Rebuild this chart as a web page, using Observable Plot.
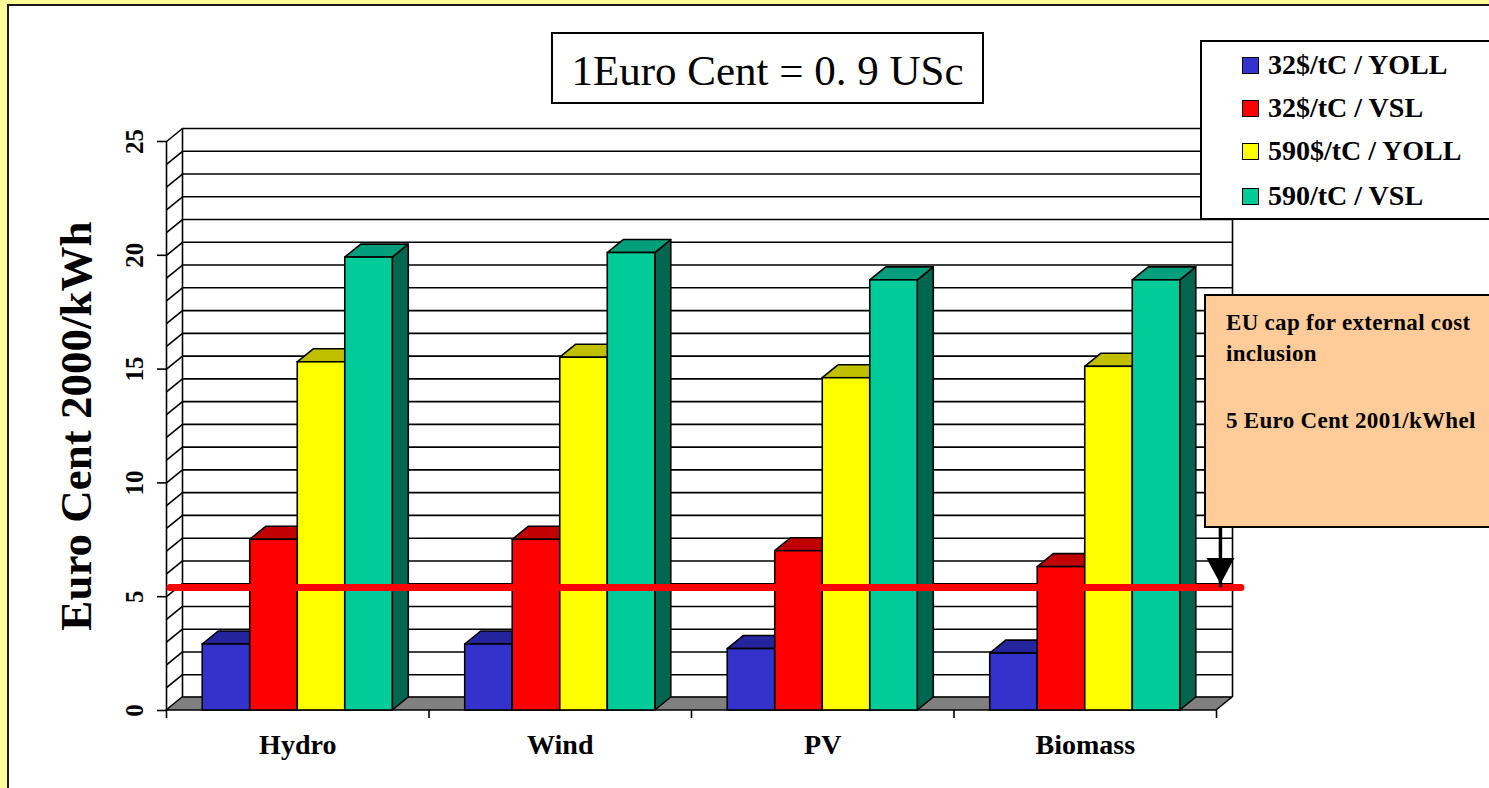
<!DOCTYPE html>
<html><head><meta charset="utf-8">
<script src="https://cdn.jsdelivr.net/npm/d3@7"></script>
<script src="https://cdn.jsdelivr.net/npm/@observablehq/plot@0.6"></script>
<style>
html,body{margin:0;padding:0;width:1489px;height:788px;overflow:hidden;background:#FFFF99;font-family:"Liberation Serif","Times New Roman",serif;}
#panel{position:absolute;left:7px;top:4px;width:1500px;height:800px;background:#fff;border:2px solid #1a1a1a;box-sizing:border-box;}
#chart{position:absolute;left:0;top:0;}
.box{position:absolute;border:2px solid #000;box-sizing:border-box;}
.abs{position:absolute;white-space:nowrap;font-family:"Liberation Serif",serif;}
.sw{position:absolute;width:17px;height:17px;border:1.5px solid #000;box-sizing:border-box;}
.lg{position:absolute;font-weight:bold;font-size:28px;line-height:28px;white-space:nowrap;font-family:"Liberation Serif",serif;}
.an{position:absolute;font-weight:bold;font-size:23px;line-height:31px;letter-spacing:0.3px;white-space:nowrap;font-family:"Liberation Serif",serif;}
</style></head>
<body>
<div id="panel"></div>
<div id="chart"></div>
<div class="box" style="left:551px;top:32px;width:433px;height:72px;background:#fff;"></div>
<div class="abs" id="title" style="left:551px;width:433px;text-align:center;top:49px;font-size:43px;line-height:43px;"></div>
<div class="box" style="left:1200px;top:40px;width:320px;height:180px;background:#fff;"></div>
<div id="legend"></div>
<div class="box" style="left:1204px;top:294px;width:320px;height:234px;background:#FFCC99;"></div>
<div id="annot"></div>
<script>
// ---- data ----
const categories = ["Hydro", "Wind", "PV", "Biomass"];
const seriesNames = ["32$/tC / YOLL", "32$/tC / VSL", "590$/tC / YOLL", "590/tC / VSL"];
const yoll32  = [2.9, 2.9, 2.7, 2.5];
const vsl32   = [7.5, 7.5, 7.0, 6.3];
const yoll590 = [15.3, 15.5, 14.6, 15.1];
const vsl590  = [19.9, 20.1, 18.9, 18.9];
const yTicks = [0, 5, 10, 15, 20, 25];
const gridValues = [0,1,2,3,4,5,6,7,8,9,10,11,12,13,14,15,16,17,18,19,20,21,22,23,24,25];
const capValue = 5.4;
const arrowTopValue = 8.0;
const titleText = "1Euro Cent = 0. 9 USc";
const yLabel = "Euro Cent 2000/kWh";
const annotLines1 = ["EU cap for external cost", "inclusion"];
const annotLine2 = "5 Euro Cent 2001/kWhel";

// ---- styles ----
const frontColors = ["#3333CC", "#FF0000", "#FFFF00", "#00CC99"];
const topColors   = ["#24249C", "#C00000", "#C0C000", "#009E7A"];
const sideColors  = ["#1A1A70", "#900000", "#909000", "#006650"];
const FONT = "Liberation Serif, Times New Roman, serif";

// ---- layout ----
const W = 1489, H = 788;
const M = {left: 166, right: 273, top: 141, bottom: 78};
const pxX = (W - M.left - M.right) / categories.length;
const pxY = (H - M.top - M.bottom) / 25;
const depthX = 16 / pxX, depthY = 13 / pxY;
const groupW = 0.724, barW = groupW / seriesNames.length;
const capLineStart = 0.015, capLineEnd = 4.095, arrowX = 4.015;

const seriesValues = [yoll32, vsl32, yoll590, vsl590];
const bars = [];
categories.forEach((c, i) => seriesValues.forEach((vals, j) => {
  const x1 = i + 0.5 - groupW / 2 + j * barW;
  bars.push({cat: c, j, value: vals[i], x1, x2: x1 + barW});
}));
const sides = bars.flatMap((b, k) => [
  {id: k, j: b.j, x: b.x2, y1: 0, y2: b.value},
  {id: k, j: b.j, x: b.x2 + depthX, y1: depthY, y2: b.value + depthY}]);
const tops = bars.flatMap((b, k) => [
  {id: k, j: b.j, y: b.value, x1: b.x1, x2: b.x2},
  {id: k, j: b.j, y: b.value + depthY, x1: b.x1 + depthX, x2: b.x2 + depthX}]);
const floor = [{y: 0, x1: 0, x2: categories.length}, {y: depthY, x1: depthX, x2: categories.length + depthX}];

const downTriangle = {draw(ctx, size) {
  const r = Math.sqrt(size / Math.PI);
  ctx.moveTo(0, 0); ctx.lineTo(-1.35 * r, -2.5 * r); ctx.lineTo(1.35 * r, -2.5 * r); ctx.closePath();
}};

const chart = Plot.plot({
  width: W, height: H,
  marginLeft: M.left, marginRight: M.right, marginTop: M.top, marginBottom: M.bottom,
  style: {background: "transparent", fontFamily: FONT, overflow: "visible", color: "#000"},
  x: {domain: [0, categories.length]},
  y: {domain: [0, 25]},
  color: {type: "identity"},
  marks: [
    // back wall & side wall grid
    Plot.ruleY(gridValues, {y: d => d + depthY, x1: depthX, x2: categories.length + depthX, stroke: "#000", strokeWidth: 1.6}),
    Plot.link(gridValues, {x1: 0, y1: d => d, x2: depthX, y2: d => d + depthY, stroke: "#000", strokeWidth: 1.6}),
    Plot.ruleX([0], {y1: 0, y2: 25, stroke: "#000", strokeWidth: 1.6}),
    Plot.ruleX([depthX, categories.length + depthX], {y1: depthY, y2: 25 + depthY, stroke: "#000", strokeWidth: 1.6}),
    // floor
    Plot.areaX(floor, {y: "y", x1: "x1", x2: "x2", fill: "#808080", stroke: "#000", strokeWidth: 1.6, strokeLinejoin: "round"}),
    // axes
    Plot.axisY({ticks: yTicks, tickSize: 9, tickFormat: () => "", label: null, stroke: "#000", strokeWidth: 1.6}),
    Plot.axisX({ticks: [0, 1, 2, 3, 4], tickSize: 8, tickFormat: () => "", label: null, stroke: "#000", strokeWidth: 1.6}),
    Plot.text(yTicks, {frameAnchor: "left", y: d => d, text: d => String(d), rotate: -90, dx: -32,
      fontSize: 25, fontWeight: "bold", textAnchor: "middle", lineAnchor: "middle", fill: "#000"}),
    Plot.text(categories, {x: (d, i) => i + 0.5, frameAnchor: "bottom", dy: 35, text: d => d,
      fontSize: 28, fontWeight: "bold", textAnchor: "middle", lineAnchor: "middle", fill: "#000"}),
    Plot.text([yLabel], {frameAnchor: "left", rotate: -90, dx: -76, text: d => d, textAnchor: "middle", lineAnchor: "bottom",
      fontSize: 45, fontWeight: "bold", fill: "#000"}),
    // 3D bars
    Plot.areaY(sides, {x: "x", y1: "y1", y2: "y2", z: "id", fill: d => sideColors[d.j], stroke: "#000", strokeWidth: 1.6, strokeLinejoin: "round"}),
    Plot.areaX(tops, {y: "y", x1: "x1", x2: "x2", z: "id", fill: d => topColors[d.j], stroke: "#000", strokeWidth: 1.6, strokeLinejoin: "round"}),
    Plot.rect(bars, {x1: "x1", x2: "x2", y1: 0, y2: "value", fill: d => frontColors[d.j], stroke: "#000", strokeWidth: 1.6}),
    // cap line and arrow
    Plot.ruleY([capValue], {x1: capLineStart, x2: capLineEnd, stroke: "#FF0000", strokeWidth: 7, strokeLinecap: "round"}),
    Plot.ruleX([arrowX], {y1: capValue, y2: arrowTopValue, stroke: "#000", strokeWidth: 3.5}),
    Plot.dot([arrowX], {x: d => d, y: capValue, dy: -3.5, symbol: downTriangle, r: 10.4, fill: "#000", stroke: "none"})
  ]
});
document.getElementById("chart").appendChild(chart);

// title
document.getElementById("title").textContent = titleText;

// legend
const lg = document.getElementById("legend");
const legendBaselines = [74, 117, 160, 205];
seriesNames.forEach((name, j) => {
  const sw = document.createElement("div");
  sw.className = "sw";
  sw.style.left = "1242px"; sw.style.top = (legendBaselines[j] - 17) + "px";
  sw.style.background = frontColors[j];
  lg.appendChild(sw);
  const t = document.createElement("div");
  t.className = "lg";
  t.style.left = "1268px"; t.style.top = (legendBaselines[j] - 23.4) + "px";
  t.textContent = name;
  lg.appendChild(t);
});

// annotation
const an = document.getElementById("annot");
const a1 = document.createElement("div");
a1.className = "an"; a1.style.left = "1226px"; a1.style.top = "307px";
a1.innerHTML = annotLines1.join("<br>");
an.appendChild(a1);
const a2 = document.createElement("div");
a2.className = "an"; a2.style.left = "1226px"; a2.style.top = "405px";
a2.textContent = annotLine2;
an.appendChild(a2);
</script>
</body></html>
